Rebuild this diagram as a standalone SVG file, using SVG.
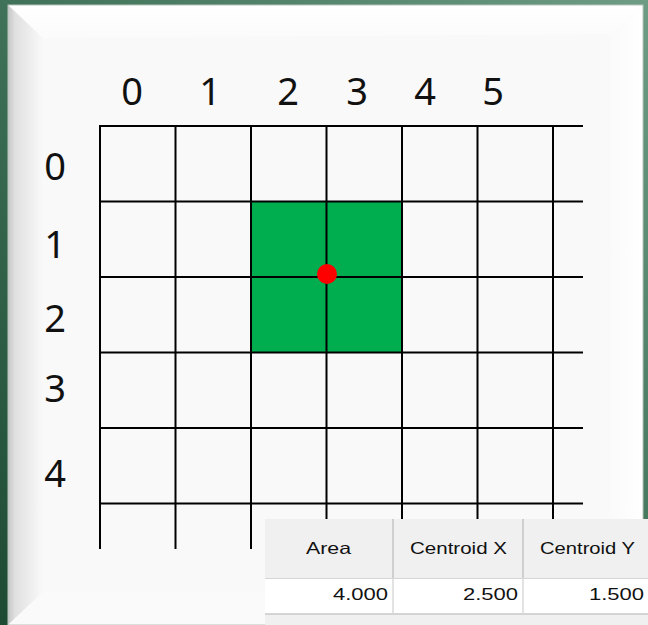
<svg xmlns="http://www.w3.org/2000/svg" width="648" height="625" viewBox="0 0 648 625">
  <defs>
    <linearGradient id="bg" x1="0" y1="1" x2="1" y2="0">
      <stop offset="0" stop-color="#1d4a33"/>
      <stop offset="0.5" stop-color="#3f7258"/>
      <stop offset="1" stop-color="#6e9c84"/>
    </linearGradient>
    <linearGradient id="leftBevel" x1="0" y1="0" x2="1" y2="0">
      <stop offset="0" stop-color="#c6c6c6"/>
      <stop offset="0.2" stop-color="#e0e0e0"/>
      <stop offset="1" stop-color="#f9f9f9"/>
    </linearGradient>
    <linearGradient id="topBevel" x1="0" y1="0" x2="0" y2="1">
      <stop offset="0" stop-color="#ffffff"/>
      <stop offset="1" stop-color="#fbfbfb"/>
    </linearGradient>
    <linearGradient id="rightBevel" x1="0" y1="0" x2="1" y2="0">
      <stop offset="0" stop-color="#fafafa"/>
      <stop offset="1" stop-color="#ffffff"/>
    </linearGradient>
    <style>
      .grid line { stroke: #000; stroke-width: 2; }
      .axis { font-family: "Noto Sans", "Open Sans", "Liberation Sans", sans-serif; font-size: 38px; fill: #111; text-anchor: middle; }
      .hdr { font-family: "Liberation Sans", "DejaVu Sans", sans-serif; font-size: 16.5px; fill: #111; }
      .val { font-family: "Liberation Sans", "DejaVu Sans", sans-serif; font-size: 17px; fill: #111; text-anchor: end; }
    </style>
  </defs>

  <g id="background">
    <rect x="0" y="0" width="648" height="625" fill="url(#bg)"/>
  </g>

  <g id="panel">
    <rect x="8" y="5" width="635" height="620" fill="#f9f9f9"/>
    <polygon points="8,5 643,5 610,34 43,38" fill="url(#topBevel)"/>
    <polygon points="610,34 643,5 643,625 610,625" fill="url(#rightBevel)"/>
    <polygon points="8,5 43,38 43,592 8,625" fill="url(#leftBevel)"/>
    <polygon points="8,625 43,592 610,592 643,625" fill="#fafafa"/>
    <rect x="8" y="5" width="635" height="620" fill="none" stroke="#b8c4bc" stroke-width="1"/>
  </g>

  <g id="square">
    <rect x="251" y="201.5" width="151" height="151" fill="#00ad4f"/>
  </g>

  <g id="grid" class="grid">
    <line x1="100" y1="126" x2="100" y2="549"/>
    <line x1="175.5" y1="126" x2="175.5" y2="549"/>
    <line x1="251" y1="126" x2="251" y2="549"/>
    <line x1="326.5" y1="126" x2="326.5" y2="549"/>
    <line x1="402" y1="126" x2="402" y2="549"/>
    <line x1="477.5" y1="126" x2="477.5" y2="549"/>
    <line x1="553" y1="126" x2="553" y2="549"/>
    <line x1="99" y1="126" x2="583" y2="126"/>
    <line x1="99" y1="201.5" x2="583" y2="201.5"/>
    <line x1="99" y1="277" x2="583" y2="277"/>
    <line x1="99" y1="352.5" x2="583" y2="352.5"/>
    <line x1="99" y1="428" x2="583" y2="428"/>
    <line x1="99" y1="503.5" x2="583" y2="503.5"/>
  </g>

  <g id="centroid">
    <circle cx="327" cy="274" r="10" fill="#ff0000"/>
  </g>

  <g id="labels-x">
    <text class="axis" x="132" y="105">0</text>
    <text class="axis" x="210" y="105">1</text>
    <text class="axis" x="288" y="105">2</text>
    <text class="axis" x="357" y="105">3</text>
    <text class="axis" x="425" y="105">4</text>
    <text class="axis" x="493" y="105">5</text>
  </g>
  <g id="labels-y">
    <text class="axis" x="55" y="180">0</text>
    <text class="axis" x="55" y="258">1</text>
    <text class="axis" x="55" y="332">2</text>
    <text class="axis" x="55" y="402">3</text>
    <text class="axis" x="55" y="487">4</text>
  </g>

  <g id="table">
    <rect x="265" y="519" width="383" height="106" fill="#f0f0f0"/>
    <rect x="265" y="578" width="383" height="36" fill="#ffffff"/>
    <line x1="265" y1="578.5" x2="648" y2="578.5" stroke="#d5d5d5" stroke-width="1"/>
    <line x1="265" y1="614" x2="648" y2="614" stroke="#c8c8c8" stroke-width="1.5"/>
    <line x1="393" y1="519" x2="393" y2="578" stroke="#c4c4c4" stroke-width="1.5"/>
    <line x1="523" y1="519" x2="523" y2="578" stroke="#c4c4c4" stroke-width="1.5"/>
    <line x1="393" y1="578" x2="393" y2="614" stroke="#dadada" stroke-width="1.5"/>
    <line x1="523" y1="578" x2="523" y2="614" stroke="#dadada" stroke-width="1.5"/>
    <text class="hdr" x="306" y="554" textLength="45" lengthAdjust="spacingAndGlyphs">Area</text>
    <text class="hdr" x="410" y="554" textLength="97" lengthAdjust="spacingAndGlyphs">Centroid X</text>
    <text class="hdr" x="540" y="554" textLength="95" lengthAdjust="spacingAndGlyphs">Centroid Y</text>
    <text class="val" x="388" y="600" textLength="55" lengthAdjust="spacingAndGlyphs">4.000</text>
    <text class="val" x="518" y="600" textLength="55" lengthAdjust="spacingAndGlyphs">2.500</text>
    <text class="val" x="644" y="600" textLength="55" lengthAdjust="spacingAndGlyphs">1.500</text>
  </g>
</svg>
